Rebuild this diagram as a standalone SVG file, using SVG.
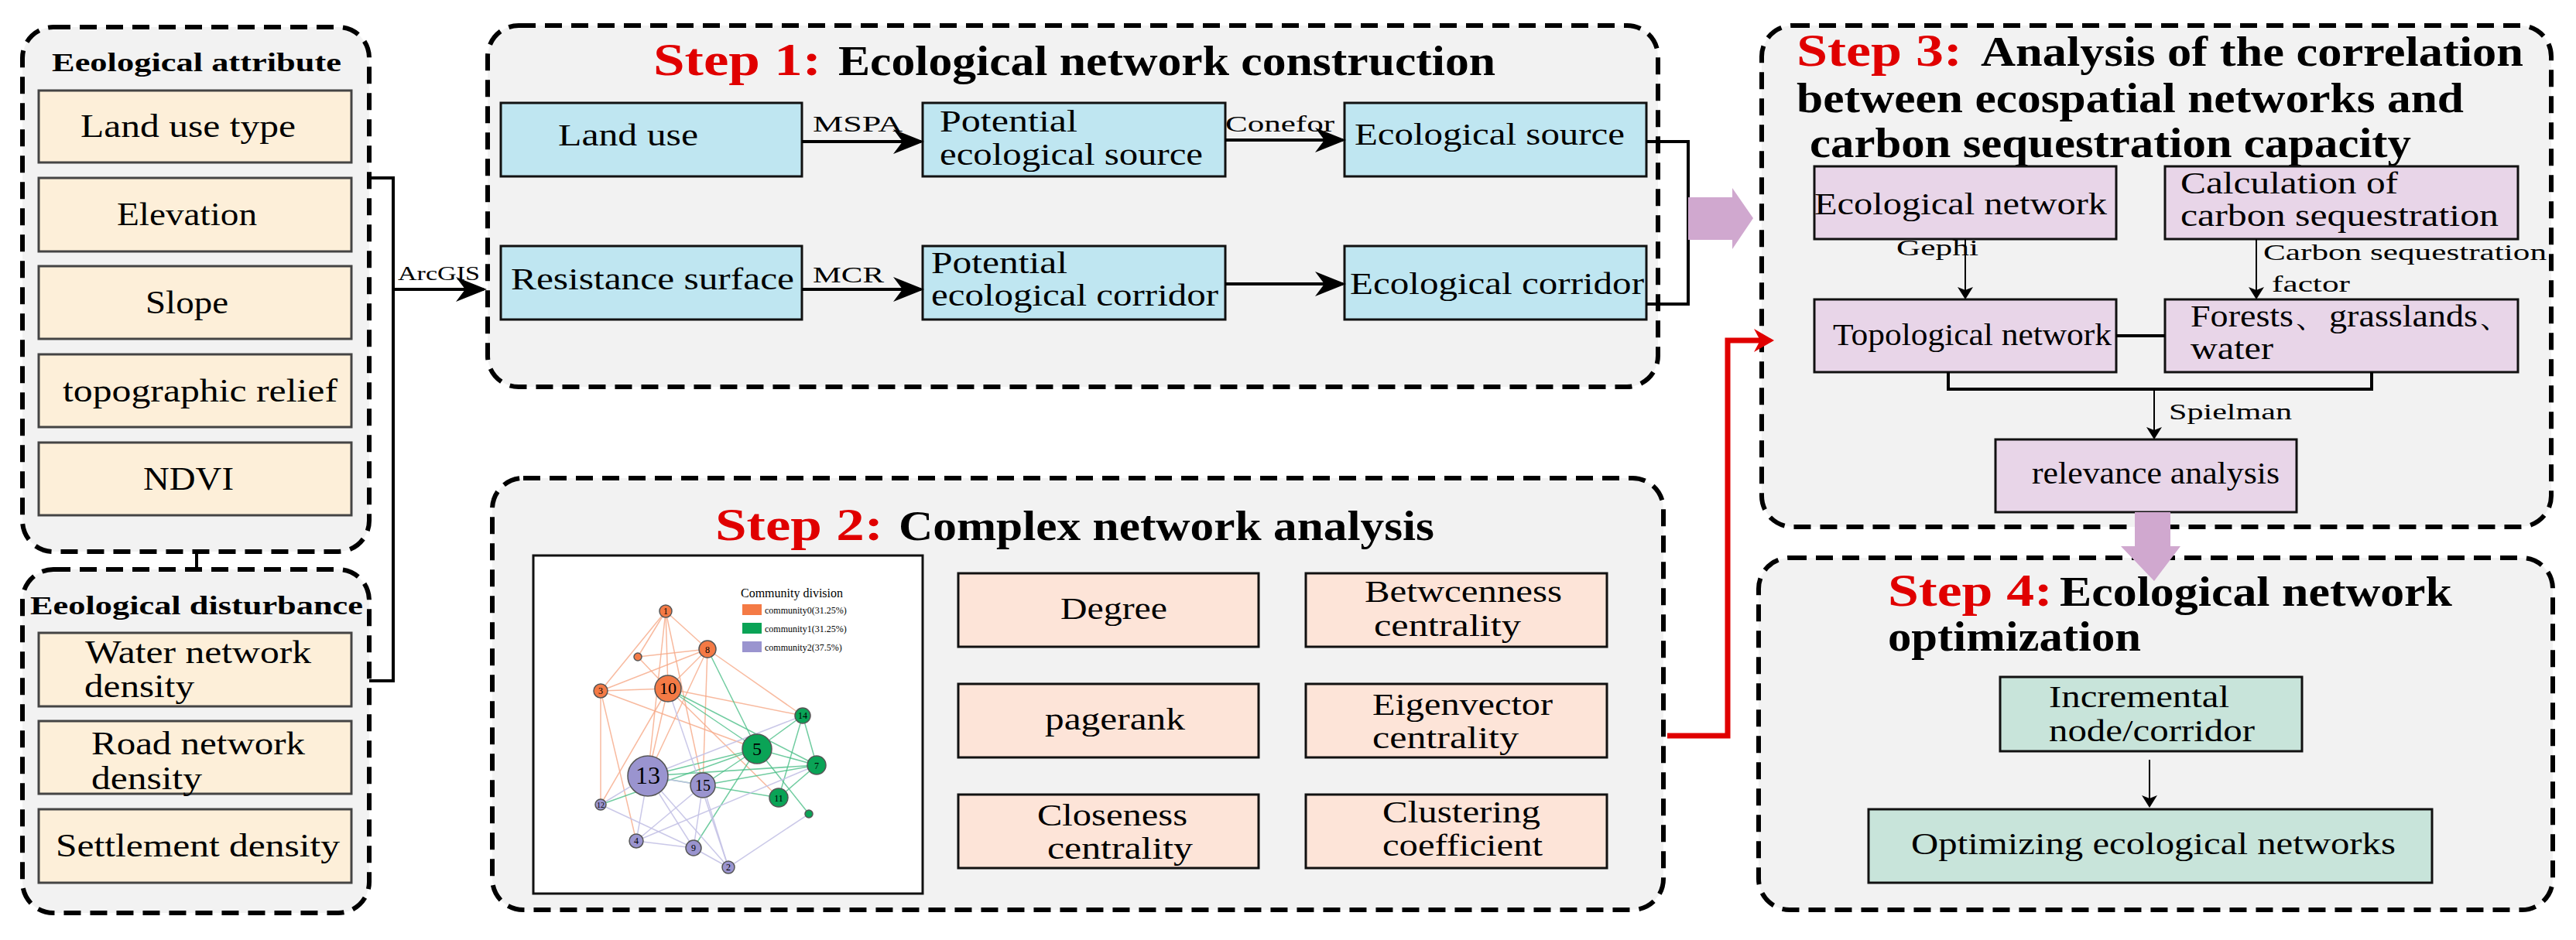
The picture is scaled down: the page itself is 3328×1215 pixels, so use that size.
<svg xmlns="http://www.w3.org/2000/svg" width="3328" height="1215" viewBox="0 0 3328 1215" font-family="'Liberation Serif','Times New Roman','DejaVu Serif',serif">
<style>
.grp{fill:#f2f2f2;stroke:#000;stroke-width:6;stroke-dasharray:22 12}
text{font-family:'Liberation Serif','Times New Roman','DejaVu Serif',serif}
.t{fill:#000}
.b{font-weight:bold}
.r{fill:#e00000;font-weight:bold}
.lf{fill:#fdefd9;stroke:#444;stroke-width:3}
.bl{fill:#bfe6f1;stroke:#111;stroke-width:3}
.pk{fill:#fde4d8;stroke:#111;stroke-width:3}
.pu{fill:#e8d5e8;stroke:#111;stroke-width:3}
.gr{fill:#c8e4da;stroke:#111;stroke-width:3}
.ln{fill:none;stroke:#000;stroke-width:4}
.thin{fill:none;stroke:#000;stroke-width:2}
.eo{stroke:#f6a987;stroke-width:1.5;stroke-opacity:0.8}
.eg{stroke:#4cbf88;stroke-width:1.5;stroke-opacity:0.8}
.ep{stroke:#c4c2e6;stroke-width:1.5;stroke-opacity:0.9}
</style>
<defs>
<marker id="ah" markerWidth="10" markerHeight="8" refX="9" refY="4" orient="auto" markerUnits="strokeWidth"><path d="M0,0 L10,4 L0,8 L3,4 z" fill="#000"/></marker>
<marker id="ah2" markerWidth="8" markerHeight="10" refX="7" refY="5" orient="auto" markerUnits="strokeWidth"><path d="M0,0 L8,5 L0,10 L2,5 z" fill="#000"/></marker>
</defs>
<rect width="3328" height="1215" fill="#fff"/>

<g id="attr">
<rect class="grp" x="29" y="35" width="448" height="678" rx="40"/>
<text class="t b" x="67" y="92" font-size="34" textLength="374" lengthAdjust="spacingAndGlyphs">Eeological attribute</text>
<rect class="lf" x="50" y="117" width="404" height="93"/><text class="t" x="104" y="177" font-size="42" textLength="278" lengthAdjust="spacingAndGlyphs">Land use type</text>
<rect class="lf" x="50" y="230" width="404" height="95"/><text class="t" x="151" y="291" font-size="42" textLength="181" lengthAdjust="spacingAndGlyphs">Elevation</text>
<rect class="lf" x="50" y="344" width="404" height="94"/><text class="t" x="188" y="405" font-size="42" textLength="107" lengthAdjust="spacingAndGlyphs">Slope</text>
<rect class="lf" x="50" y="458" width="404" height="94"/><text class="t" x="81" y="519" font-size="42" textLength="355" lengthAdjust="spacingAndGlyphs">topographic relief</text>
<rect class="lf" x="50" y="572" width="404" height="94"/><text class="t" x="185" y="633" font-size="42" textLength="117" lengthAdjust="spacingAndGlyphs">NDVI</text>
</g>

<g id="dist">
<rect class="grp" x="29" y="736" width="448" height="444" rx="40"/>
<text class="t b" x="39" y="794" font-size="34" textLength="430" lengthAdjust="spacingAndGlyphs">Eeological disturbance</text>
<rect class="lf" x="50" y="818" width="404" height="95"/>
<text class="t" x="110" y="857" font-size="42" textLength="292" lengthAdjust="spacingAndGlyphs">Water network</text>
<text class="t" x="109" y="901" font-size="42" textLength="142" lengthAdjust="spacingAndGlyphs">density</text>
<rect class="lf" x="50" y="932" width="404" height="94"/>
<text class="t" x="118" y="975" font-size="42" textLength="276" lengthAdjust="spacingAndGlyphs">Road network</text>
<text class="t" x="118" y="1020" font-size="42" textLength="143" lengthAdjust="spacingAndGlyphs">density</text>
<rect class="lf" x="50" y="1046" width="404" height="95"/>
<text class="t" x="72" y="1107" font-size="42" textLength="367" lengthAdjust="spacingAndGlyphs">Settlement density</text>
</g>

<g id="step1">
<rect class="grp" x="630" y="33" width="1512" height="467" rx="40"/>
<text class="t r" x="844" y="97" font-size="60" textLength="217" lengthAdjust="spacingAndGlyphs">Step 1:</text>
<text class="t b" x="1083" y="97" font-size="54" textLength="849" lengthAdjust="spacingAndGlyphs">Ecological network construction</text>
<rect class="bl" x="647" y="133" width="389" height="95"/><text class="t" x="721" y="188" font-size="40" textLength="181" lengthAdjust="spacingAndGlyphs">Land use</text>
<rect class="bl" x="1192" y="133" width="391" height="95"/>
<text class="t" x="1214" y="170" font-size="40" textLength="178" lengthAdjust="spacingAndGlyphs">Potential</text>
<text class="t" x="1214" y="213" font-size="40" textLength="340" lengthAdjust="spacingAndGlyphs">ecological source</text>
<rect class="bl" x="1737" y="133" width="390" height="95"/><text class="t" x="1750" y="187" font-size="40" textLength="349" lengthAdjust="spacingAndGlyphs">Ecological source</text>
<rect class="bl" x="647" y="318" width="389" height="95"/><text class="t" x="660" y="374" font-size="40" textLength="366" lengthAdjust="spacingAndGlyphs">Resistance surface</text>
<rect class="bl" x="1192" y="318" width="391" height="95"/>
<text class="t" x="1203" y="353" font-size="40" textLength="176" lengthAdjust="spacingAndGlyphs">Potential</text>
<text class="t" x="1203" y="395" font-size="40" textLength="371" lengthAdjust="spacingAndGlyphs">ecological corridor</text>
<rect class="bl" x="1737" y="318" width="390" height="95"/><text class="t" x="1744" y="380" font-size="40" textLength="380" lengthAdjust="spacingAndGlyphs">Ecological corridor</text>
</g>

<g id="step2">
<rect class="grp" x="636" y="618" width="1513" height="558" rx="40"/>
<text class="t r" x="924" y="698" font-size="60" textLength="217" lengthAdjust="spacingAndGlyphs">Step 2:</text>
<text class="t b" x="1161" y="698" font-size="54" textLength="692" lengthAdjust="spacingAndGlyphs">Complex network analysis</text>
<rect x="689" y="718" width="503" height="437" fill="#fff" stroke="#111" stroke-width="3"/>
<g id="graph">
<line class="eo" x1="860" y1="790" x2="914" y2="839"/><line class="eo" x1="860" y1="790" x2="824" y2="849"/><line class="eo" x1="860" y1="790" x2="776" y2="893"/><line class="eo" x1="860" y1="790" x2="863" y2="890"/><line class="eo" x1="860" y1="790" x2="837" y2="1003"/><line class="eo" x1="860" y1="790" x2="908" y2="1015"/>
<line class="eo" x1="914" y1="839" x2="824" y2="849"/><line class="eo" x1="914" y1="839" x2="776" y2="893"/><line class="eo" x1="914" y1="839" x2="863" y2="890"/><line class="eo" x1="914" y1="839" x2="1037" y2="925"/><line class="eo" x1="914" y1="839" x2="837" y2="1003"/><line class="eo" x1="914" y1="839" x2="908" y2="1015"/>
<line class="eo" x1="776" y1="893" x2="863" y2="890"/><line class="eo" x1="776" y1="893" x2="978" y2="968"/><line class="eo" x1="776" y1="893" x2="776" y2="1040"/><line class="eo" x1="776" y1="893" x2="822" y2="1087"/><line class="eo" x1="824" y1="849" x2="863" y2="890"/>
<line class="eo" x1="863" y1="890" x2="1037" y2="925"/><line class="eo" x1="863" y1="890" x2="1006" y2="1031"/><line class="eo" x1="863" y1="890" x2="776" y2="1040"/><line class="eo" x1="863" y1="890" x2="837" y2="1003"/>
<line class="eg" x1="914" y1="839" x2="978" y2="968"/><line class="eg" x1="863" y1="890" x2="978" y2="968"/><line class="eg" x1="863" y1="890" x2="1055" y2="989"/>
<line class="eg" x1="1037" y1="925" x2="978" y2="968"/><line class="eg" x1="1037" y1="925" x2="1055" y2="989"/><line class="eg" x1="1037" y1="925" x2="1006" y2="1031"/><line class="eg" x1="978" y1="968" x2="1055" y2="989"/><line class="eg" x1="978" y1="968" x2="1045" y2="1052"/><line class="eg" x1="1055" y1="989" x2="1006" y2="1031"/>
<line class="eg" x1="837" y1="1003" x2="978" y2="968"/><line class="eg" x1="837" y1="1003" x2="1055" y2="989"/><line class="eg" x1="837" y1="1003" x2="1006" y2="1031"/><line class="eg" x1="908" y1="1015" x2="978" y2="968"/><line class="eg" x1="908" y1="1015" x2="1055" y2="989"/><line class="eg" x1="776" y1="1040" x2="978" y2="968"/><line class="eg" x1="896" y1="1096" x2="978" y2="968"/>
<line class="ep" x1="837" y1="1003" x2="908" y2="1015"/><line class="ep" x1="837" y1="1003" x2="776" y2="1040"/><line class="ep" x1="837" y1="1003" x2="822" y2="1087"/><line class="ep" x1="837" y1="1003" x2="896" y2="1096"/><line class="ep" x1="837" y1="1003" x2="941" y2="1121"/><line class="ep" x1="837" y1="1003" x2="1037" y2="925"/>
<line class="ep" x1="908" y1="1015" x2="822" y2="1087"/><line class="ep" x1="908" y1="1015" x2="896" y2="1096"/><line class="ep" x1="908" y1="1015" x2="941" y2="1121"/><line class="ep" x1="776" y1="1040" x2="896" y2="1096"/><line class="ep" x1="822" y1="1087" x2="896" y2="1096"/><line class="ep" x1="896" y1="1096" x2="941" y2="1121"/><line class="ep" x1="941" y1="1121" x2="1045" y2="1052"/><line class="ep" x1="822" y1="1087" x2="1055" y2="989"/><line class="ep" x1="863" y1="890" x2="941" y2="1121"/>
<g stroke="#555" stroke-width="1.5">
<circle cx="860" cy="790" r="8" fill="#f47a45"/><circle cx="914" cy="839" r="11" fill="#f47a45"/><circle cx="824" cy="849" r="5" fill="#f47a45"/><circle cx="776" cy="893" r="9" fill="#f47a45"/><circle cx="863" cy="890" r="17" fill="#f47a45"/>
<circle cx="1037" cy="925" r="10" fill="#0aa356"/><circle cx="978" cy="968" r="19" fill="#0aa356"/><circle cx="1055" cy="989" r="12" fill="#0aa356"/><circle cx="1006" cy="1031" r="12" fill="#0aa356"/><circle cx="1045" cy="1052" r="5" fill="#0aa356"/>
<circle cx="837" cy="1003" r="26" fill="#9a94cf"/><circle cx="908" cy="1015" r="16" fill="#9a94cf"/><circle cx="776" cy="1040" r="7" fill="#9a94cf"/><circle cx="822" cy="1087" r="9" fill="#9a94cf"/><circle cx="896" cy="1096" r="10" fill="#9a94cf"/><circle cx="941" cy="1121" r="8" fill="#9a94cf"/>
</g>
<g class="t" text-anchor="middle" font-size="12">
<text x="860" y="794">1</text><text x="914" y="844">8</text><text x="776" y="897">3</text><text x="863" y="897" font-size="22">10</text><text x="1037" y="929">14</text><text x="978" y="976" font-size="24">5</text><text x="1055" y="994">7</text><text x="1006" y="1036">11</text>
<text x="837" y="1013" font-size="32">13</text><text x="908" y="1022" font-size="20">15</text><text x="776" y="1044" font-size="10">12</text><text x="822" y="1091">4</text><text x="896" y="1100">9</text><text x="941" y="1125">2</text>
</g>
<text class="t" x="957" y="772" font-size="16">Community division</text>
<rect x="959" y="781" width="25" height="14" fill="#f47a45"/><rect x="959" y="805" width="25" height="14" fill="#0aa356"/><rect x="959" y="829" width="25" height="14" fill="#9a94cf"/>
<text class="t" x="988" y="793" font-size="12">community0(31.25%)</text><text class="t" x="988" y="817" font-size="12">community1(31.25%)</text><text class="t" x="988" y="841" font-size="12">community2(37.5%)</text>
</g>
<rect class="pk" x="1238" y="741" width="388" height="95"/><text class="t" x="1370" y="800" font-size="40" textLength="138" lengthAdjust="spacingAndGlyphs">Degree</text>
<rect class="pk" x="1687" y="741" width="389" height="95"/><text class="t" x="1763" y="778" font-size="40" textLength="255" lengthAdjust="spacingAndGlyphs">Betwcenness</text><text class="t" x="1775" y="822" font-size="40" textLength="190" lengthAdjust="spacingAndGlyphs">centrality</text>
<rect class="pk" x="1238" y="884" width="388" height="95"/><text class="t" x="1350" y="943" font-size="40" textLength="181" lengthAdjust="spacingAndGlyphs">pagerank</text>
<rect class="pk" x="1687" y="884" width="389" height="95"/><text class="t" x="1773" y="924" font-size="40" textLength="233" lengthAdjust="spacingAndGlyphs">Eigenvector</text><text class="t" x="1773" y="967" font-size="40" textLength="189" lengthAdjust="spacingAndGlyphs">centrality</text>
<rect class="pk" x="1238" y="1027" width="388" height="95"/><text class="t" x="1340" y="1067" font-size="40" textLength="194" lengthAdjust="spacingAndGlyphs">Closeness</text><text class="t" x="1353" y="1110" font-size="40" textLength="188" lengthAdjust="spacingAndGlyphs">centrality</text>
<rect class="pk" x="1687" y="1027" width="389" height="95"/><text class="t" x="1786" y="1063" font-size="40" textLength="204" lengthAdjust="spacingAndGlyphs">Clustering</text><text class="t" x="1786" y="1106" font-size="40" textLength="207" lengthAdjust="spacingAndGlyphs">coefficient</text>
</g>

<g id="step3">
<rect class="grp" x="2276" y="33" width="1020" height="648" rx="40"/>
<text class="t r" x="2321" y="85" font-size="60" textLength="214" lengthAdjust="spacingAndGlyphs">Step 3:</text>
<text class="t b" x="2559" y="85" font-size="54" textLength="701" lengthAdjust="spacingAndGlyphs">Analysis of the correlation</text>
<text class="t b" x="2321" y="145" font-size="54" textLength="862" lengthAdjust="spacingAndGlyphs">between ecospatial networks and</text>
<text class="t b" x="2338" y="203" font-size="54" textLength="777" lengthAdjust="spacingAndGlyphs">carbon sequestration capacity</text>
<rect class="pu" x="2344" y="215" width="390" height="94"/><text class="t" x="2344" y="277" font-size="40" textLength="378" lengthAdjust="spacingAndGlyphs">Ecological network</text>
<rect class="pu" x="2797" y="215" width="456" height="94"/><text class="t" x="2817" y="250" font-size="40" textLength="281" lengthAdjust="spacingAndGlyphs">Calculation of</text><text class="t" x="2817" y="292" font-size="40" textLength="411" lengthAdjust="spacingAndGlyphs">carbon sequestration</text>
<rect class="pu" x="2344" y="387" width="390" height="94"/><text class="t" x="2368" y="446" font-size="40" textLength="360" lengthAdjust="spacingAndGlyphs">Topological network</text>
<rect class="pu" x="2797" y="387" width="456" height="94"/><text class="t" x="2830" y="422" font-size="40" textLength="417" lengthAdjust="spacingAndGlyphs">Forests、grasslands、</text><text class="t" x="2830" y="464" font-size="40" textLength="107" lengthAdjust="spacingAndGlyphs">water</text>
<rect class="pu" x="2578" y="568" width="389" height="94"/><text class="t" x="2625" y="625" font-size="40" textLength="320" lengthAdjust="spacingAndGlyphs">relevance analysis</text>
</g>

<g id="step4">
<rect class="grp" x="2272" y="721" width="1026" height="455" rx="40"/>
<text class="t r" x="2439" y="783" font-size="60" textLength="213" lengthAdjust="spacingAndGlyphs">Step 4:</text>
<text class="t b" x="2661" y="783" font-size="54" textLength="507" lengthAdjust="spacingAndGlyphs">Ecological network</text>
<text class="t b" x="2439" y="841" font-size="54" textLength="327" lengthAdjust="spacingAndGlyphs">optimization</text>
<rect class="gr" x="2584" y="875" width="390" height="96"/><text class="t" x="2647" y="914" font-size="40" textLength="233" lengthAdjust="spacingAndGlyphs">Incremental</text><text class="t" x="2647" y="958" font-size="40" textLength="266" lengthAdjust="spacingAndGlyphs">node/corridor</text>
<rect class="gr" x="2414" y="1046" width="728" height="95"/><text class="t" x="2469" y="1104" font-size="40" textLength="626" lengthAdjust="spacingAndGlyphs">Optimizing ecological networks</text>
</g>

<g id="connectors">
<line x1="254" y1="713" x2="254" y2="736" stroke="#000" stroke-width="4"/>
<polyline class="ln" points="477,230 508,230 508,880 477,880"/>
<line class="ln" x1="508" y1="374" x2="625" y2="374" marker-end="url(#ah)"/>
<text class="t" x="514" y="362" font-size="26" textLength="106" lengthAdjust="spacingAndGlyphs">ArcGIS</text>
<line class="ln" x1="1036" y1="183" x2="1190" y2="183" marker-end="url(#ah)"/>
<text class="t" x="1050" y="170" font-size="30" textLength="116" lengthAdjust="spacingAndGlyphs">MSPA</text>
<line class="ln" x1="1583" y1="181" x2="1735" y2="181" marker-end="url(#ah)"/>
<text class="t" x="1583" y="170" font-size="30" textLength="141" lengthAdjust="spacingAndGlyphs">Conefor</text>
<line class="ln" x1="1036" y1="374" x2="1190" y2="374" marker-end="url(#ah)"/>
<text class="t" x="1050" y="365" font-size="30" textLength="92" lengthAdjust="spacingAndGlyphs">MCR</text>
<line class="ln" x1="1583" y1="367" x2="1735" y2="367" marker-end="url(#ah)"/>
<polyline class="ln" points="2127,183 2181,183 2181,393 2127,393"/>
<polygon points="2181,255 2238,255 2238,243 2265,282 2238,322 2238,310 2181,310" fill="#d0a8cf"/>
<polyline points="2154,951 2232,951 2232,440 2285,440" fill="none" stroke="#e00000" stroke-width="7"/>
<polygon points="2266,425 2292,440 2266,455 2274,440" fill="#e00000"/>
<line class="thin" x1="2539" y1="309" x2="2539" y2="385" marker-end="url(#ah2)"/>
<text class="t" x="2450" y="330" font-size="30" textLength="106" lengthAdjust="spacingAndGlyphs">Gephi</text>
<line class="thin" x1="2915" y1="309" x2="2915" y2="385" marker-end="url(#ah2)"/>
<text class="t" x="2924" y="336" font-size="30" textLength="366" lengthAdjust="spacingAndGlyphs">Carbon sequestration</text>
<text class="t" x="2935" y="377" font-size="30" textLength="101" lengthAdjust="spacingAndGlyphs">factor</text>
<line class="ln" x1="2734" y1="434" x2="2797" y2="434"/>
<polyline class="ln" points="2517,481 2517,503 3064,503 3064,481"/>
<line class="thin" x1="2783" y1="503" x2="2783" y2="566" marker-end="url(#ah2)"/>
<text class="t" x="2802" y="542" font-size="30" textLength="159" lengthAdjust="spacingAndGlyphs">Spielman</text>
<polygon points="2758,662 2804,662 2804,706 2817,706 2783,751 2740,706 2758,706" fill="#d0a8cf"/>
<line class="thin" x1="2777" y1="982" x2="2777" y2="1042" marker-end="url(#ah2)"/>
</g>
</svg>
